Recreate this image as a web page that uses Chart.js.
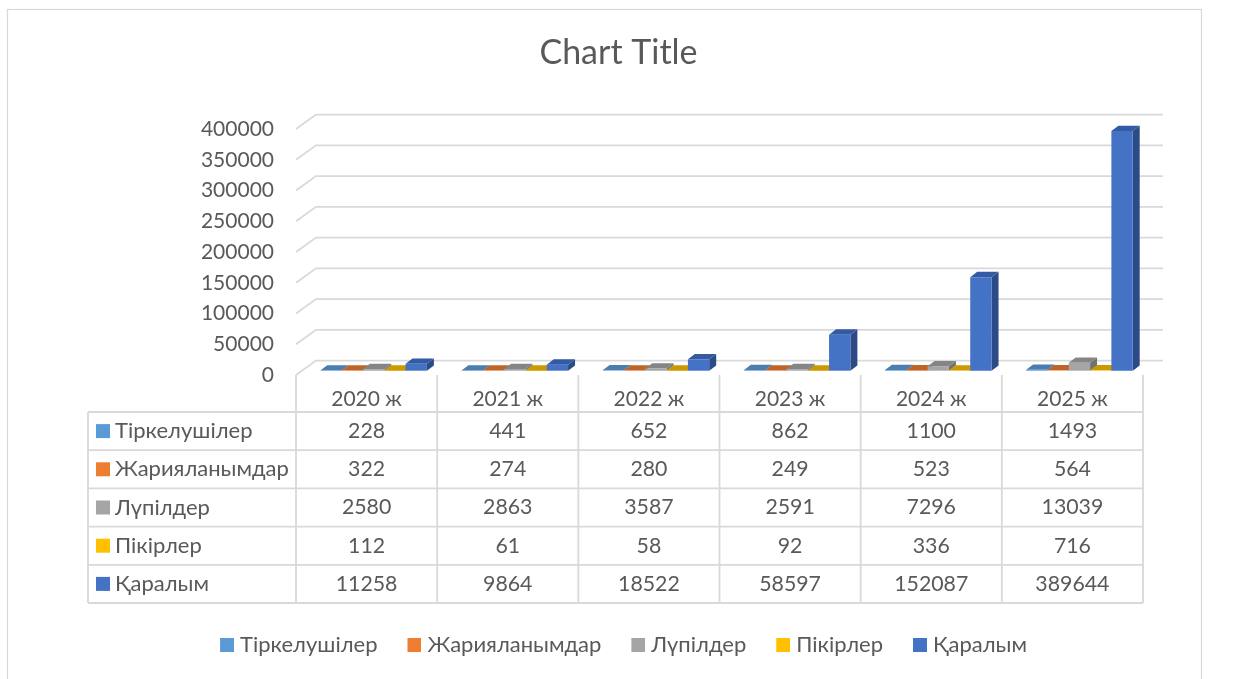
<!DOCTYPE html>
<html><head><meta charset="utf-8">
<style>html,body{margin:0;padding:0;background:#fff}canvas{display:block}</style>
<script src="https://cdn.jsdelivr.net/npm/chart.js@4"></script>
</head><body><canvas id="c" width="1233" height="679"></canvas>
<script>
const categories = ['2020 ж','2021 ж','2022 ж','2023 ж','2024 ж','2025 ж'];
const seriesNames = ['Тіркелушілер','Жарияланымдар','Лүпілдер','Пікірлер','Қаралым'];
const registrants = [228,441,652,862,1100,1493];
const publications = [322,274,280,249,523,564];
const likes = [2580,2863,3587,2591,7296,13039];
const comments = [112,61,58,92,336,716];
const views = [11258,9864,18522,58597,152087,389644];
const seriesValues = [registrants,publications,likes,comments,views];
const frontColors = ['#5B9BD5','#ED7D31','#A5A5A5','#FFC000','#4472C4'];
const topColors = ['#4A7EAE','#BE6427','#858585','#CC9A00','#335AA2'];
const sideColors = ['#3F6C95','#A35522','#727272','#B08400','#2C4A85'];
const FONT = 'Lato, "Open Sans", sans-serif';
const TXT = '#595959', GRID = '#D9D9D9';
const FRONT = {l:296,r:1143,t:129,b:375};
const WALL = {dx:20,dy:-14.4};
const BAR = {sx:7,sy:-4.3,dx:7,dy:-5.3};
const ROW = {top:412,h:38.2,left:88};
const PAD = {left:90,right:90,bottom:13};

function swatch(color){
  const s=document.createElement('canvas');s.width=19;s.height=14;
  const g=s.getContext('2d');g.fillStyle=color;g.fillRect(5,0,14,14);
  return s;
}

const draw3d = {
  id:'draw3d',
  beforeDraw(chart){
    const c=chart.ctx; c.save();
    c.strokeStyle=GRID;c.lineWidth=1.2;
    c.strokeRect(7.5,9.5,1194,700);
    c.lineWidth=1.9;
    const y=chart.scales.y, a=chart.chartArea;
    for(const t of y.ticks){
      const p=y.getPixelForValue(t.value);
      c.beginPath();c.moveTo(a.left,p);c.lineTo(a.left+WALL.dx,p+WALL.dy);c.lineTo(a.right+WALL.dx,p+WALL.dy);c.stroke();
    }
    c.restore();
  },
  beforeDatasetsDraw(chart){
    const c=chart.ctx; c.save(); c.translate(BAR.sx,BAR.sy);
    seriesValues.forEach((_,i)=>{
      chart.getDatasetMeta(i).data.forEach(el=>{
        const l=el.x-el.width/2,r=el.x+el.width/2,t=el.y,b=el.base;
        c.fillStyle=sideColors[i];
        c.beginPath();c.moveTo(r,t);c.lineTo(r+BAR.dx,t+BAR.dy);c.lineTo(r+BAR.dx,b+BAR.dy);c.lineTo(r,b);c.closePath();c.fill();
        c.fillStyle=topColors[i];
        c.beginPath();c.moveTo(l,t);c.lineTo(l+BAR.dx,t+BAR.dy);c.lineTo(r+BAR.dx,t+BAR.dy);c.lineTo(r,t);c.closePath();c.fill();
        el.draw(c);
      });
    });
    c.restore();
    return false;
  },
  afterLayout(chart){
    chart.legend.left+=7; chart.legend.right+=7;
    chart.titleBlock.left+=2; chart.titleBlock.right+=2;
  },
  afterDraw(chart){
    const c=chart.ctx, x=chart.scales.x, a=chart.chartArea; c.save();
    c.strokeStyle=GRID;c.lineWidth=1.8;
    const n=seriesNames.length, bottom=ROW.top+n*ROW.h;
    const w=(a.right-a.left)/categories.length;
    for(let i=0;i<=categories.length;i++){
      const px=a.left+i*w;
      c.beginPath();c.moveTo(px,a.bottom);c.lineTo(px,bottom);c.stroke();
    }
    c.beginPath();c.moveTo(ROW.left,ROW.top);c.lineTo(ROW.left,bottom);c.stroke();
    for(let r=0;r<=n;r++){
      const py=ROW.top+r*ROW.h;
      c.beginPath();c.moveTo(ROW.left,py);c.lineTo(a.right,py);c.stroke();
    }
    c.fillStyle=TXT;c.textBaseline='middle';
    seriesNames.forEach((name,r)=>{
      const cy=ROW.top+(r+.5)*ROW.h;
      c.fillStyle=frontColors[r];c.fillRect(96,cy-7,14,14);
      c.fillStyle=TXT;c.textAlign='left';c.font='22px '+FONT;c.fillText(name,115,cy);
      c.textAlign='center';c.font='21.3px '+FONT;
      seriesValues[r].forEach((v,i)=>c.fillText(String(v),x.getPixelForTick(i),cy));
    });
    c.restore();
  }
};

new Chart(document.getElementById('c'),{
  type:'bar',
  data:{labels:categories,datasets:seriesNames.map((n,i)=>({label:n,data:seriesValues[i],backgroundColor:frontColors[i],borderWidth:0,categoryPercentage:.755,barPercentage:1}))},
  plugins:[draw3d],
  options:{
    responsive:false,animation:false,
    layout:{padding:{left:PAD.left,right:PAD.right,top:0,bottom:PAD.bottom}},
    plugins:{
      tooltip:{enabled:false},
      title:{display:true,text:'Chart Title',color:TXT,font:{family:FONT,size:34,weight:'normal'},padding:{top:32.6,bottom:55.6}},
      legend:{position:'bottom',labels:{color:TXT,font:{family:FONT,size:22},usePointStyle:true,pointStyleWidth:9,padding:30,
        generateLabels(chart){
          return chart.data.datasets.map((d,i)=>({text:d.label,datasetIndex:i,fontColor:TXT,fillStyle:frontColors[i],strokeStyle:frontColors[i],lineWidth:0,pointStyle:swatch(frontColors[i]),hidden:false}));
        }}}
    },
    scales:{
      x:{grid:{display:false},border:{display:false},ticks:{color:TXT,font:{family:FONT,size:21},padding:4,maxRotation:0},
        afterFit(s){ s.height=s.chart.height-(s.chart.legend?s.chart.legend.height:70)-PAD.bottom-FRONT.b; }},
      y:{min:0,max:400000,grid:{display:false},border:{display:false},
        ticks:{stepSize:50000,color:TXT,font:{family:FONT,size:21},padding:14,callback:v=>String(v)},
        afterFit(s){ s.width=FRONT.l-PAD.left; }}
    }
  }
});
</script></body></html>
